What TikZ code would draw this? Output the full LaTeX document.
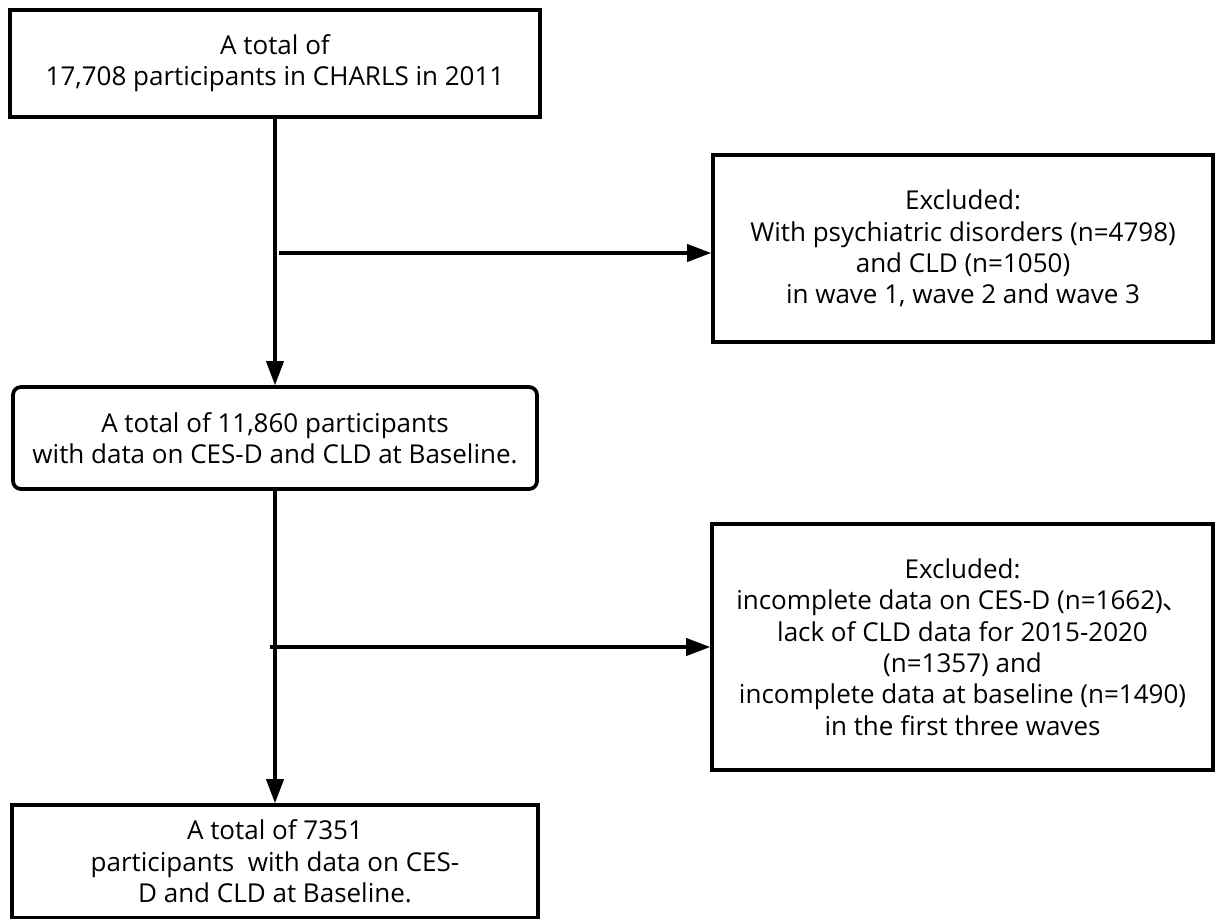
\documentclass[tikz,border=0pt]{standalone}
\usepackage{fontspec}
\setmainfont{Open Sans}
\newfontfamily\cjk{Noto Sans CJK SC}
\usetikzlibrary{arrows.meta}
\begin{document}
\begin{tikzpicture}[x=0.75pt,y=-0.75pt,
  box/.style={draw=black,line width=2.8pt,align=center,inner sep=0pt,
    font=\fontsize{19.5}{23.5}\selectfont},
  conn/.style={draw=black,line width=2.3pt},
  arr/.style={conn,-{Triangle[length=18pt,width=13pt]}}]
\useasboundingbox[fill=white] (0,0) rectangle (1219,919);
\node[box,minimum width=530*0.75pt,minimum height=107*0.75pt] (b1) at (275,63.5)
  {A total of\\17,708 participants in CHARLS in 2011};
\node[box,minimum width=500*0.75pt,minimum height=187*0.75pt] (b2) at (963,248.5)
  {Excluded:\\With psychiatric disorders (n=4798)\\and CLD (n=1050)\\in wave 1, wave 2 and wave 3};
\node[box,rounded corners=6pt,minimum width=524*0.75pt,minimum height=102*0.75pt] (b3) at (275,438)
  {A total of 11,860 participants\\with data on CES-D and CLD at Baseline.};
\node[box,minimum width=501*0.75pt,minimum height=246*0.75pt] (b4) at (962.5,647)
  {Excluded:\\incomplete data on CES-D (n=1662){\cjk 、}\\lack of CLD data for 2015-2020\\(n=1357) and\\incomplete data at baseline (n=1490)\\in the first three waves};
\node[box,minimum width=526*0.75pt,minimum height=113*0.75pt] (b5) at (275,861.5)
  {A total of 7351\\participants\ \ with data on CES-\\D and CLD at Baseline.};
\coordinate (j1) at (279,253);
\coordinate (j2) at (270,647);
\draw[arr] (b1.south) -- (b3.north);
\draw[arr] (j1) -- (j1 -| b2.west);
\draw[arr] (b3.south) -- (b5.north);
\draw[arr] (j2) -- (j2 -| b4.west);
\end{tikzpicture}
\end{document}
